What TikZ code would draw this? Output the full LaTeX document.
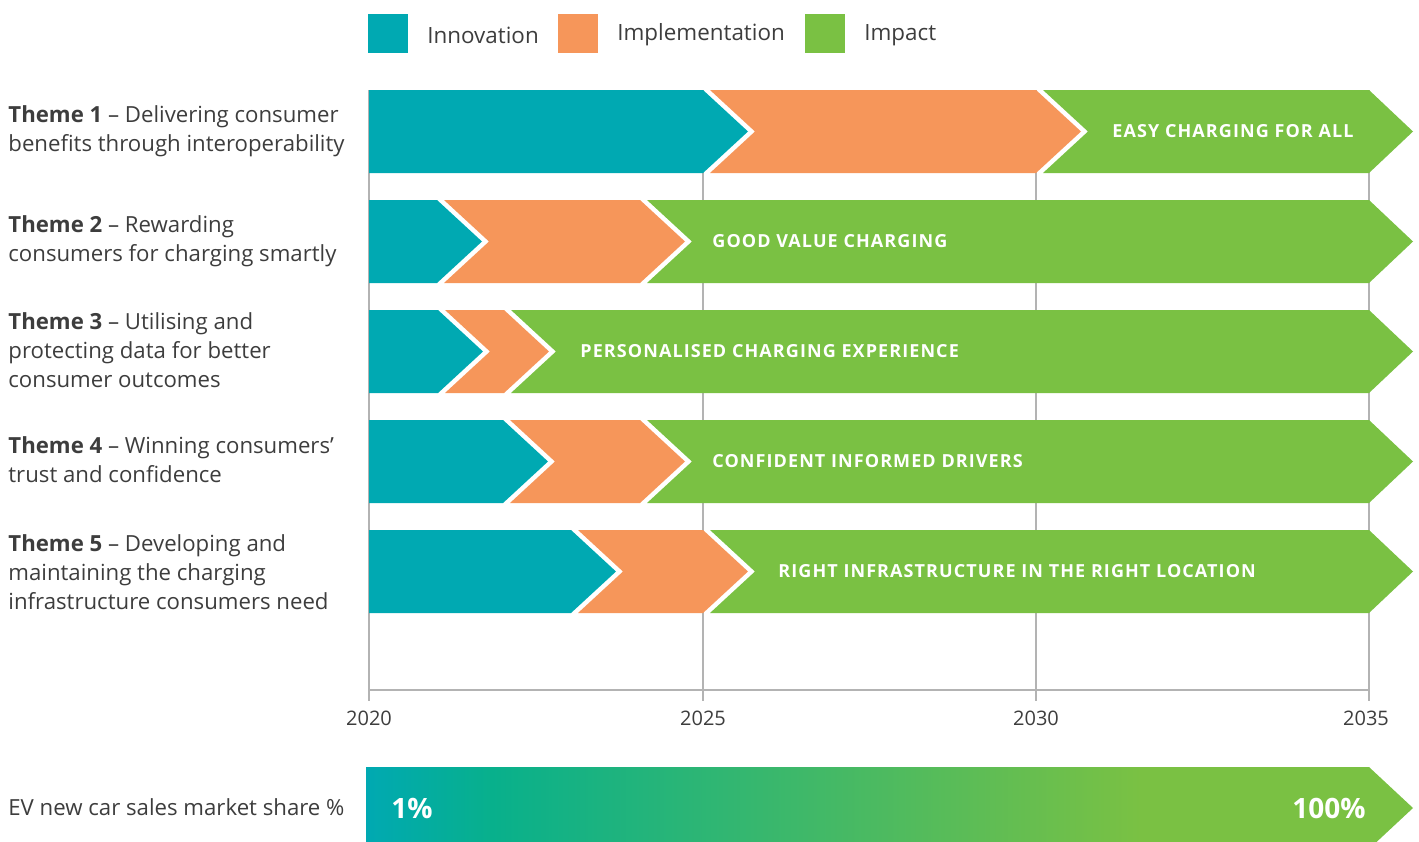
\documentclass[tikz,border=0pt]{standalone}
\usepackage{fontspec}
\setmainfont{Open Sans}
\newfontfamily\barfont[LetterSpace=6]{Open Sans}
\definecolor{inno}{HTML}{00A9B2}
\definecolor{impl}{HTML}{F6965A}
\definecolor{impa}{HTML}{7AC143}
\definecolor{emer}{HTML}{08B08C}
\definecolor{txt}{HTML}{3D3D3D}
\definecolor{grid}{HTML}{B3B3B3}
\pgfdeclarehorizontalshading{evshare}{100bp}{color(0bp)=(inno); color(25bp)=(inno); color(31bp)=(emer); color(62bp)=(impa); color(100bp)=(impa)}
\tikzset{
  gridline/.style={draw=grid, line width=0.8pt},
  theme/.style={anchor=west, inner sep=0pt, align=left, text=txt, font=\fontsize{11.1}{14.6}\selectfont},
  barlabel/.style={anchor=west, inner sep=0pt, text=white, font=\barfont\bfseries\fontsize{9}{10}\selectfont},
  legtext/.style={anchor=west, inner sep=0pt, text=txt, font=\fontsize{11.2}{13}\selectfont},
  year/.style={anchor=base, inner sep=0pt, text=txt, font=\fontsize{10}{12}\selectfont},
  share/.style={inner sep=0pt, text=white, font=\bfseries\fontsize{14}{15}\selectfont},
}
\begin{document}
\begin{tikzpicture}[x=0.5pt, y=-0.5pt]
\useasboundingbox (0,0) rectangle (1419,841);
\clip (0,0) rectangle (1419,841);

% legend
\fill[inno] (368,14) rectangle (408,53);
\node[legtext] (lg1) at (427,35) {Innovation};
\fill[impl] (558,14) rectangle (598,53);
\node[legtext] (lg2) at (617,35) {Implementation};
\fill[impa] (805,14) rectangle (845,53);
\node[legtext] (lg3) at (864,35) {Impact};

% timeline grid and axis
\foreach \gx in {369,703,1036,1369} {
  \draw[gridline] (\gx,90) -- (\gx,701);
}
\draw[gridline] (369,690) -- (1369,690);
\node[year] (y2020) at (369,725) {2020};
\node[year] (y2025) at (703,725) {2025};
\node[year] (y2030) at (1036,725) {2030};
\node[year] (y2035) at (1366,725) {2035};

% chevron rows: top edge, end of innovation, end of implementation, label x, label
\foreach \t/\ba/\bb/\lx/\lab [count=\i] in {
   90/703/1036/1112/EASY CHARGING FOR ALL,
  200/437/640/712/GOOD VALUE CHARGING,
  310/438/504/580/PERSONALISED CHARGING EXPERIENCE,
  420/503/640/712/CONFIDENT INFORMED DRIVERS,
  530/571/703/778/RIGHT INFRASTRUCTURE IN THE RIGHT LOCATION} {
  \pgfmathsetmacro{\bt}{\t+83}
  \pgfmathsetmacro{\mt}{\t+41.5}
  \fill[inno] (369,\t) -- (\ba,\t) -- (\ba+45,\mt) -- (\ba,\bt) -- (369,\bt) -- cycle;
  \fill[impl] (\ba+7,\t) -- (\bb,\t) -- (\bb+45,\mt) -- (\bb,\bt) -- (\ba+7,\bt) -- (\ba+52,\mt) -- cycle;
  \fill[impa] (\bb+7,\t) -- (1369,\t) -- (1413,\mt) -- (1369,\bt) -- (\bb+7,\bt) -- (\bb+52,\mt) -- cycle;
  \node[barlabel] (bar\i) at (\lx,\mt) {\lab};
}

% theme descriptions
\node[theme] (th1) at (8,131) {\textbf{Theme 1} – Delivering consumer\\benefits through interoperability};
\node[theme] (th2) at (8,241) {\textbf{Theme 2} – Rewarding\\consumers for charging smartly};
\node[theme] (th3) at (8,350) {\textbf{Theme 3} – Utilising and\\protecting data for better\\consumer outcomes};
\node[theme] (th4) at (8,460) {\textbf{Theme 4} – Winning consumers’\\trust and confidence};
\node[theme] (th5) at (8,572) {\textbf{Theme 5} – Developing and\\maintaining the charging\\infrastructure consumers need};

% market share bar
\shade[shading=evshare] (366,767) -- (1369,767) -- (1413,808) -- (1369,849) -- (366,849) -- cycle;
\node[theme] (ev) at (8,807) {EV new car sales market share \%};
\node[share] (s1) at (412,808) {1\%};
\node[share] (s100) at (1329,808) {100\%};
\end{tikzpicture}
\end{document}
